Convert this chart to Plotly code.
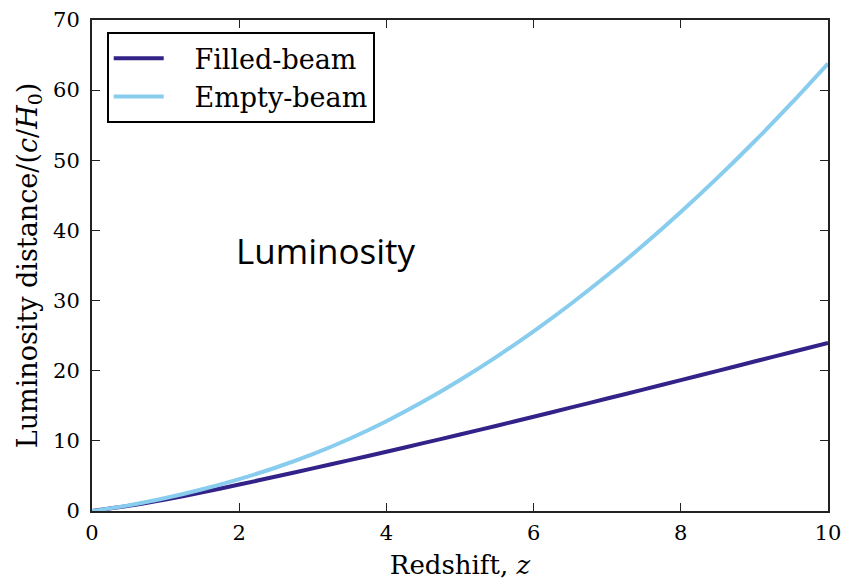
import plotly.graph_objects as go

redshift = [0, 0.5, 1, 1.5, 2, 2.5, 3, 3.5, 4, 4.5, 5, 5.5, 6, 6.5, 7, 7.5, 8, 8.5, 9, 9.5, 10]
filled_beam = [0, 0.75, 1.65, 2.67, 3.77, 4.91, 6.07, 7.25, 8.45, 9.67, 10.91,
               12.16, 13.44, 14.73, 16.03, 17.34, 18.66, 19.98, 21.31, 22.63, 23.95]
empty_beam = [0, 0.8, 1.85, 3.1, 4.55, 6.2, 8.1, 10.3, 12.8, 15.6, 18.68,
              22.02, 25.62, 29.48, 33.6, 37.98, 42.62, 47.52, 52.68, 58.1, 63.8]

series_names = ["Filled-beam", "Empty-beam"]
series_colors = ["#332288", "#88CCEE"]

x_ticks = [0, 2, 4, 6, 8, 10]
y_ticks = [0, 10, 20, 30, 40, 50, 60, 70]

fig = go.Figure()
for name, ys, col in zip(series_names, [filled_beam, empty_beam], series_colors):
    fig.add_trace(go.Scatter(x=redshift, y=ys, mode="lines", name="\u00a0\u00a0\u00a0" + name,
                             line=dict(color=col, width=4, shape="spline", smoothing=0.8)))

serif = "DejaVu Serif"
axis_common = dict(showline=True, linecolor="#222", linewidth=2, mirror="ticks",
                   ticks="inside", ticklen=8, tickwidth=1.3, tickcolor="#222",
                   showgrid=False, zeroline=False, automargin=False,
                   tickfont=dict(family=serif, size=21, color="black"))

fig.update_layout(
    width=846, height=581,
    margin=dict(l=92, r=18, t=20, b=70),
    paper_bgcolor="white", plot_bgcolor="white",
    xaxis=dict(range=[0, 10], tickvals=x_ticks, **axis_common, ticklabelstandoff=2,
               title=dict(text="Redshift, <i>z</i>", font=dict(family=serif, size=26, color="black"), standoff=12)),
    yaxis=dict(range=[0, 70], tickvals=y_ticks, **axis_common, ticklabelstandoff=6,
               title=dict(text="Luminosity distance/(<i>c</i>/<i>H</i><sub>0</sub>)",
                          font=dict(family=serif, size=27, color="black"), standoff=8)),
    legend=dict(x=0.02, y=0.975, xanchor="left", yanchor="top",
                bgcolor="white", bordercolor="black", borderwidth=2,
                font=dict(family=serif, size=27, color="black"),
                itemwidth=50, tracegroupgap=2),
    showlegend=True,
    annotations=[dict(text="Luminosity", x=3.17, y=37.2, xref="x", yref="y",
                      showarrow=False, font=dict(family="Open Sans", size=35, color="black"))],
)

fig.write_html("out.html")
